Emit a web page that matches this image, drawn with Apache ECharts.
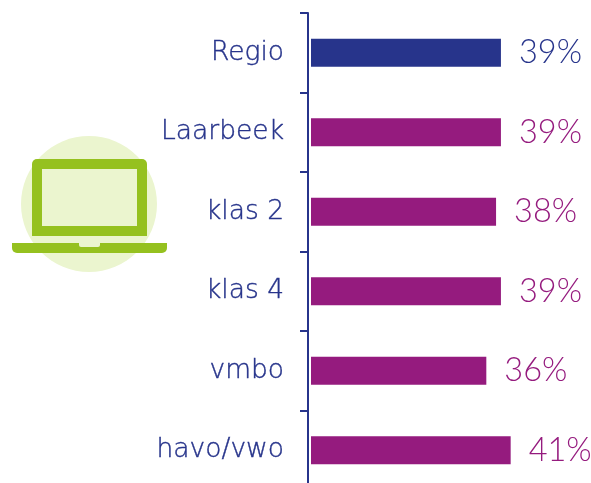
<!DOCTYPE html>
<html><head><meta charset="utf-8">
<style>html,body{margin:0;padding:0;background:#fff}#c{width:591px;height:483px}</style>
<script src="https://cdn.jsdelivr.net/npm/echarts@6/dist/echarts.min.js"></script>
</head><body><div id="c"></div>
<script>
const categories = ['Regio','Laarbeek','klas 2','klas 4','vmbo','havo/vwo'];
const values = [39,39,38,39,36,41];
const barColors = ['#27348b','#951b7e','#951b7e','#951b7e','#951b7e','#951b7e'];
const labelColors = ['#27348b','#951b7e','#951b7e','#951b7e','#951b7e','#951b7e'];
const chart = echarts.init(document.getElementById('c'),null,{renderer:'canvas'});
const green='#95c11f', pale='#ebf5cf';
chart.setOption({
  animation:false,
  grid:{left:311,top:13,width:243.5,height:477,outerBoundsMode:'none'},
  xAxis:{type:'value',min:0,max:50,show:false},
  yAxis:{type:'category',inverse:true,data:categories,offset:3,
    axisLine:{show:true,onZero:false,lineStyle:{color:'#27348b',width:2}},
    axisTick:{show:true,length:8,alignWithLabel:false,lineStyle:{color:'#27348b',width:2}},
    axisLabel:{color:'#27348b',fontFamily:'DejaVu Sans',fontWeight:200,fontSize:26.5,margin:24,
      padding:[7,0,0,0],textBorderColor:'#27348b',textBorderWidth:0.4}},
  series:[{type:'bar',barWidth:28,
    data:values.map((v,i)=>({value:v,itemStyle:{color:barColors[i]},
      label:{color:labelColors[i]}})),
    label:{show:true,position:'right',distance:18,padding:[2,0,0,0],fontFamily:'Lato',fontWeight:300,fontSize:32.5,formatter:p=>p.value+'%'}}],
  graphic:[
    {type:'circle',shape:{cx:89,cy:204,r:68},style:{fill:pale}},
    {type:'rect',shape:{x:32,y:159,width:115,height:77,r:[5,5,0,0]},style:{fill:green}},
    {type:'rect',shape:{x:42,y:169,width:95,height:57},style:{fill:pale}},
    {type:'rect',shape:{x:12,y:243,width:155,height:10,r:[0,0,5,5]},style:{fill:green}},
    {type:'rect',shape:{x:79,y:243,width:21,height:4,r:[0,0,2,2]},style:{fill:pale}}
  ]
});
</script></body></html>
